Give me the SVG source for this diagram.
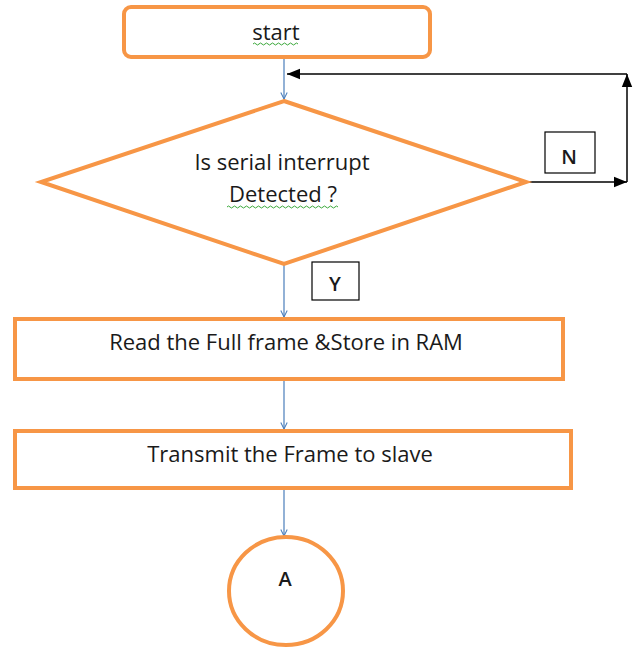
<svg xmlns="http://www.w3.org/2000/svg" width="637" height="649" viewBox="0 0 637 649">
<style>
.sh{fill:#fff;stroke:#F79646;stroke-width:4}
.t{font-family:"Open Sans","Liberation Sans",sans-serif;font-size:22px;fill:#1a1a1a;text-anchor:middle}
.s{font-size:20px;font-weight:600}
.lb{fill:#fff;stroke:#000;stroke-width:1.2}
.blue{stroke:#4A7EBB;stroke-width:1.2;fill:none}
.blk{stroke:#000;stroke-width:1.5;fill:none}
.sq{stroke:#3aa83a;stroke-width:1;fill:none}
</style>
<defs>
<marker id="ab" viewBox="0 0 10 10" refX="9" refY="5" markerWidth="8" markerHeight="8" orient="auto" markerUnits="userSpaceOnUse"><path d="M1,1 L9,5 L1,9" fill="none" stroke="#4A7EBB" stroke-width="1.3"/></marker>
<marker id="ak" viewBox="0 0 10 10" refX="10" refY="5" markerWidth="13" markerHeight="13" orient="auto" markerUnits="userSpaceOnUse"><path d="M0,1 L10,5 L0,9 Z" fill="#000"/></marker>
</defs>
<g id="connectors">
<line class="blue" x1="284" y1="58" x2="284" y2="99" marker-end="url(#ab)"/>
<line class="blue" x1="284" y1="265" x2="284" y2="317" marker-end="url(#ab)"/>
<line class="blue" x1="284" y1="380" x2="284" y2="429" marker-end="url(#ab)"/>
<line class="blue" x1="284" y1="489" x2="284" y2="536" marker-end="url(#ab)"/>
<line class="blk" x1="529" y1="182" x2="627" y2="182" marker-end="url(#ak)"/>
<line class="blk" x1="627" y1="182" x2="627" y2="74" marker-end="url(#ak)"/>
<line class="blk" x1="627" y1="74" x2="287" y2="74" marker-end="url(#ak)"/>
</g>
<g id="start">
<rect class="sh" x="124" y="7" width="306" height="50" rx="7"/>
<text class="t" x="276" y="40">start</text>
<path class="sq" d="M253,44 q1.5,-2 3,0 t3,0 t3,0 t3,0 t3,0 t3,0 t3,0 t3,0 t3,0 t3,0 t3,0 t3,0 t3,0 t3,0 t3,0"/>
</g>
<g id="decision">
<polygon class="sh" points="284,101 526,182 284,264 41,182"/>
<text class="t" x="282" y="170">Is serial interrupt</text>
<text class="t" x="283" y="202">Detected ?</text>
<path class="sq" d="M227,207 q1.5,-2 3,0 t3,0 t3,0 t3,0 t3,0 t3,0 t3,0 t3,0 t3,0 t3,0 t3,0 t3,0 t3,0 t3,0 t3,0 t3,0 t3,0 t3,0 t3,0 t3,0 t3,0 t3,0 t3,0 t3,0 t3,0 t3,0 t3,0 t3,0 t3,0 t3,0 t3,0 t3,0 t3,0 t3,0 t3,0 t3,0 t3,0"/>
</g>
<g id="labelN">
<rect class="lb" x="545" y="132" width="50" height="41"/>
<text class="t s" x="569" y="164">N</text>
</g>
<g id="labelY">
<rect class="lb" x="312" y="262" width="47" height="38"/>
<text class="t s" x="335" y="291">Y</text>
</g>
<g id="read">
<rect class="sh" x="15" y="319" width="548" height="60"/>
<text class="t" x="286" y="350">Read the Full frame &amp;Store in RAM</text>
</g>
<g id="transmit">
<rect class="sh" x="15" y="431" width="556" height="57"/>
<text class="t" x="290" y="462">Transmit the Frame to slave</text>
</g>
<g id="connectorA">
<ellipse class="sh" cx="286" cy="591" rx="57" ry="54"/>
<text class="t s" x="285" y="586">A</text>
</g>
</svg>
